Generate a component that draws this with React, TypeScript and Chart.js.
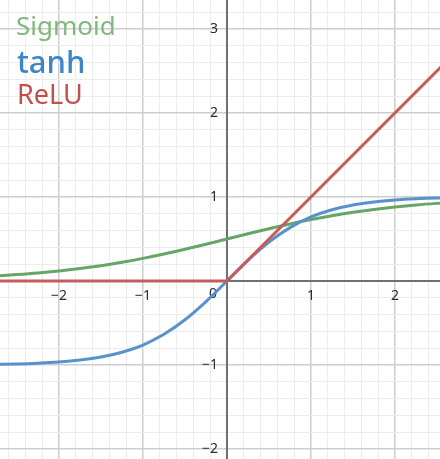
import { useEffect, useRef } from 'react';
import { Chart, registerables } from 'chart.js';

Chart.register(...registerables);

const xSamples = [-2.75, -2.5, -2.25, -2, -1.75, -1.5, -1.25, -1, -0.75, -0.5, -0.25, 0, 0.25, 0.5, 0.75, 1, 1.25, 1.5, 1.75, 2, 2.25, 2.5, 2.75];
const sigmoidValues = [0.06, 0.076, 0.095, 0.119, 0.148, 0.182, 0.223, 0.269, 0.321, 0.378, 0.438, 0.5, 0.562, 0.622, 0.679, 0.731, 0.777, 0.818, 0.852, 0.881, 0.905, 0.924, 0.94];
const tanhValues = [-0.992, -0.987, -0.978, -0.964, -0.941, -0.905, -0.848, -0.762, -0.635, -0.462, -0.245, 0, 0.245, 0.462, 0.635, 0.762, 0.848, 0.905, 0.941, 0.964, 0.978, 0.987, 0.992];
const reluX = [-2.75, 0, 2.75];
const reluValues = [0, 0, 2.75];

const seriesNames = ['Sigmoid', 'tanh', 'ReLU'];

const xTickValues = [-2, -1, 1, 2];
const xTickLabels = ['−2', '−1', '1', '2'];
const yTickValues = [-2, -1, 1, 2, 3];
const yTickLabels = ['−2', '−1', '1', '2', '3'];
const originLabel = '0';

const X_MIN = -2.702;
const X_MAX = 2.536;
const Y_MIN = -2.119;
const Y_MAX = 3.345;
const STEP = 0.2;

const COLORS = {
  sigmoidLine: '#66a566',
  tanhLine: '#5792cd',
  reluLine: '#c85c5c',
  sigmoidText: '#80b880',
  tanhText: '#3c86c8',
  reluText: '#c24f4a',
  axis: '#707070',
  major: '#cdcdcd',
  minor: '#ececec',
  label: '#2a2a2a',
};

function gridTicks(min: number, max: number) {
  const out: { value: number }[] = [];
  for (let k = Math.ceil(min / STEP); k <= Math.floor(max / STEP); k++) {
    out.push({ value: Math.round(k * STEP * 1000) / 1000 });
  }
  return out;
}

function gridColor(ctx: any) {
  const v = ctx.tick ? ctx.tick.value : 0;
  if (Math.abs(v - Math.round(v)) < 1e-6) return COLORS.major;
  return COLORS.minor;
}
function gridWidth(ctx: any) {
  const v = ctx.tick ? ctx.tick.value : 0;
  if (Math.abs(v - Math.round(v)) < 1e-6) return 1.5;
  return 1;
}

const overlayPlugin = {
  id: 'overlay',
  beforeDatasetsDraw(chart: any) {
    const { ctx, chartArea, scales } = chart;
    const xs = scales.x;
    const ys = scales.y;
    const x0 = xs.getPixelForValue(0);
    const y0 = ys.getPixelForValue(0);
    ctx.save();
    ctx.strokeStyle = COLORS.axis;
    ctx.lineWidth = 2;
    ctx.beginPath();
    ctx.moveTo(chartArea.left, y0);
    ctx.lineTo(chartArea.right, y0);
    ctx.moveTo(x0, chartArea.top);
    ctx.lineTo(x0, chartArea.bottom);
    ctx.stroke();

    ctx.fillStyle = COLORS.label;
    ctx.font = '14px "Noto Sans"';
    ctx.textAlign = 'center';
    ctx.textBaseline = 'middle';
    xTickValues.forEach((v, i) => {
      ctx.fillText(xTickLabels[i], xs.getPixelForValue(v), y0 + 15);
    });
    ctx.textAlign = 'right';
    yTickValues.forEach((v, i) => {
      ctx.fillText(yTickLabels[i], x0 - 9, ys.getPixelForValue(v));
    });
    ctx.fillText(originLabel, x0 - 10, y0 + 13);
    ctx.restore();
  },
  afterDatasetsDraw(chart: any) {
    const { ctx } = chart;
    ctx.save();
    ctx.textAlign = 'left';
    ctx.textBaseline = 'alphabetic';
    ctx.fillStyle = COLORS.sigmoidText;
    ctx.font = '26px "Noto Sans"';
    ctx.fillText(seriesNames[0], 16, 35);
    ctx.fillStyle = COLORS.tanhText;
    ctx.font = '500 31px "Noto Sans"';
    ctx.fillText(seriesNames[1], 17, 73);
    ctx.fillStyle = COLORS.reluText;
    ctx.font = '27px "Noto Sans"';
    ctx.fillText(seriesNames[2], 17, 104);
    ctx.restore();
  },
};

export default function App() {
  const canvasRef = useRef<HTMLCanvasElement | null>(null);

  useEffect(() => {
    const canvas = canvasRef.current;
    if (!canvas) return;
    const toPoints = (xsArr: number[], ysArr: number[]) => xsArr.map((x, i) => ({ x, y: ysArr[i] }));
    const chart = new Chart(canvas, {
      type: 'line',
      data: {
        datasets: [
          {
            label: seriesNames[2],
            data: toPoints(reluX, reluValues),
            borderColor: COLORS.reluLine,
            borderWidth: 3,
            pointRadius: 0,
            tension: 0,
            order: 1,
          },
          {
            label: seriesNames[1],
            data: toPoints(xSamples, tanhValues),
            borderColor: COLORS.tanhLine,
            borderWidth: 3,
            pointRadius: 0,
            cubicInterpolationMode: 'monotone',
            order: 2,
          },
          {
            label: seriesNames[0],
            data: toPoints(xSamples, sigmoidValues),
            borderColor: COLORS.sigmoidLine,
            borderWidth: 3,
            pointRadius: 0,
            cubicInterpolationMode: 'monotone',
            order: 3,
          },
        ],
      },
      options: {
        animation: false,
        responsive: false,
        maintainAspectRatio: false,
        layout: { padding: 0 },
        plugins: {
          legend: { display: false },
          tooltip: { enabled: false },
        },
        scales: {
          x: {
            type: 'linear',
            min: X_MIN,
            max: X_MAX,
            afterBuildTicks: (scale: any) => {
              scale.ticks = gridTicks(X_MIN, X_MAX);
            },
            ticks: { display: false },
            border: { display: false },
            grid: { color: gridColor, lineWidth: gridWidth, drawTicks: false },
          },
          y: {
            type: 'linear',
            min: Y_MIN,
            max: Y_MAX,
            afterBuildTicks: (scale: any) => {
              scale.ticks = gridTicks(Y_MIN, Y_MAX);
            },
            ticks: { display: false },
            border: { display: false },
            grid: { color: gridColor, lineWidth: gridWidth, drawTicks: false },
          },
        },
      } as any,
      plugins: [overlayPlugin],
    });
    return () => chart.destroy();
  }, []);

  return (
    <div style={{ position: 'absolute', left: 0, top: 0, width: 440, height: 459, background: '#ffffff' }}>
      <canvas ref={canvasRef} width={440} height={459} style={{ display: 'block', width: 440, height: 459 }} />
    </div>
  );
}
